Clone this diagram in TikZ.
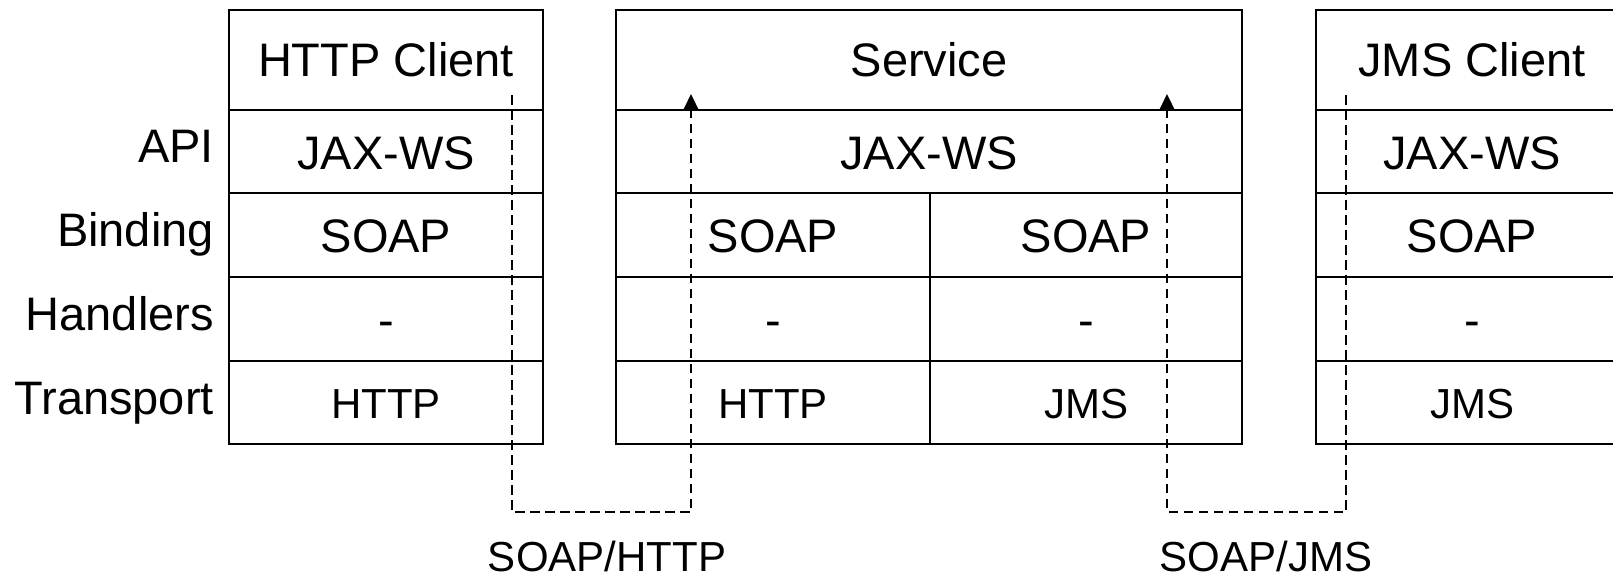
\documentclass[tikz,border=0pt]{standalone}
\usepackage{fontspec}
\setmainfont{Liberation Sans}
\usetikzlibrary{arrows.meta}
\begin{document}
\begin{tikzpicture}[x=1pt,y=-1pt,
  frame/.style={draw=black, line width=2.5pt, line join=miter},
  big/.style={font=\fontsize{47}{52}\selectfont, inner sep=0pt, anchor=base},
  small/.style={font=\fontsize{42}{46}\selectfont, inner sep=0pt, anchor=base},
  layer/.style={big, anchor=base east},
  flow/.style={draw=black, line width=2.2pt, dash pattern=on 9.5pt off 5.5pt},
  tip/.style={-{Triangle[length=16pt,width=15pt]}}
]
\clip (0,0) rectangle (1613,579);
\fill[white] (0,0) rectangle (1613,579);

% --- HTTP client stack ---
\draw[frame] (229,10) rectangle (543,444);
\foreach \y in {110,193,277,361} \draw[frame] (229,\y) -- (543,\y);

% --- Service stack (two bindings/transports) ---
\draw[frame] (616,10) rectangle (1242,444);
\foreach \y in {110,193,277,361} \draw[frame] (616,\y) -- (1242,\y);
\draw[frame] (930,193) -- (930,444);

% --- JMS client stack (runs off the right edge) ---
\draw[frame] (1316,10) rectangle (1628,444);
\foreach \y in {110,193,277,361} \draw[frame] (1316,\y) -- (1628,\y);

% layer names
\node[layer] (lApi)   at (214,162) {API};
\node[layer] (lBind)  at (214,246) {Binding};
\node[layer] (lHand)  at (214,330) {Handlers};
\node[layer] (lTrans) at (214,414) {Transport};

% HTTP client cells
\node[big]   (hcTitle) at (386,76)  {HTTP Client};
\node[big]   (hcApi)   at (386,169) {JAX-WS};
\node[big]   (hcBind)  at (386,252) {SOAP};
\node[big]   (hcHand)  at (386,336) {-};
\node[small] (hcTrans) at (386,418) {HTTP};

% service cells
\node[big]   (svTitle)  at (929,76)   {Service};
\node[big]   (svApi)    at (929,169)  {JAX-WS};
\node[big]   (svBindH)  at (773,252)  {SOAP};
\node[big]   (svBindJ)  at (1086,252) {SOAP};
\node[big]   (svHandH)  at (773,336)  {-};
\node[big]   (svHandJ)  at (1086,336) {-};
\node[small] (svTransH) at (773,418)  {HTTP};
\node[small] (svTransJ) at (1086,418) {JMS};

% JMS client cells
\node[big]   (jcTitle) at (1472,76)  {JMS Client};
\node[big]   (jcApi)   at (1472,169) {JAX-WS};
\node[big]   (jcBind)  at (1472,252) {SOAP};
\node[big]   (jcHand)  at (1472,336) {-};
\node[small] (jcTrans) at (1472,418) {JMS};

% message paths
\coordinate (hcOut)  at (512,95);
\coordinate (svInH)  at (691,94);
\coordinate (jcOut)  at (1346,95);
\coordinate (svInJ)  at (1167,94);
\coordinate (loop)   at (0,512);

\draw[flow,tip] (hcOut) -- (hcOut |- loop) -| (svInH);
\draw[flow,tip] (jcOut) -- (jcOut |- loop) -| (svInJ);

\node[small] (pHttp) at (607,571)  {SOAP/HTTP};
\node[small] (pJms)  at (1266,571) {SOAP/JMS};
\end{tikzpicture}
\end{document}
